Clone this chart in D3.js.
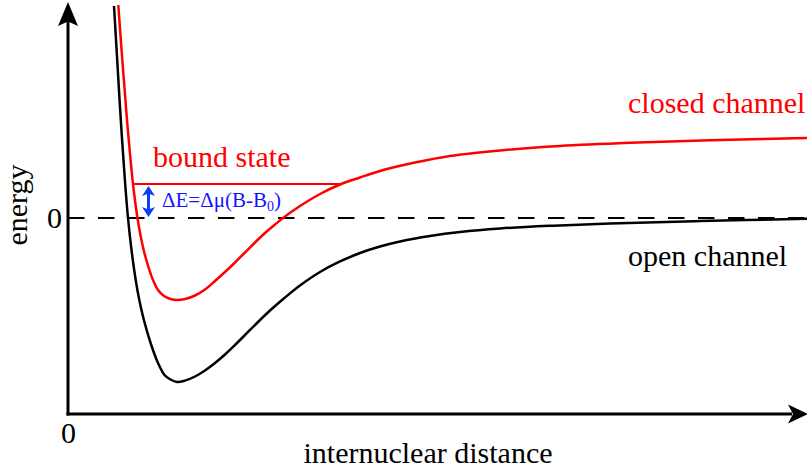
<!DOCTYPE html>
<html>
<head>
<meta charset="utf-8">
<script src="https://cdn.jsdelivr.net/npm/d3@7"></script>
<style>
  html, body { margin: 0; padding: 0; background: #fff; }
  svg { display: block; }
</style>
</head>
<body>
<svg id="chart" width="807" height="472"></svg>
<script>
// Potential energy curves, as [internuclear distance, energy] pairs
const openChannel = [
  [0.6216, 1.2927], [0.6649, 0.9634], [0.7135, 0.5976], [0.7689, 0.2317],
  [0.8108, 0.0000], [0.8581, -0.1951], [0.9149, -0.3780], [0.9635, -0.5000],
  [1.0257, -0.6220], [1.1162, -0.7622], [1.2162, -0.8841], [1.3041, -0.9573],
  [1.3851, -0.9848], [1.4730, -1.0000], [1.5811, -0.9915], [1.7162, -0.9665],
  [1.8514, -0.9299], [1.9865, -0.8841], [2.1216, -0.8323], [2.2568, -0.7744],
  [2.3919, -0.7134], [2.5541, -0.6402], [2.7297, -0.5640], [2.9324, -0.4848],
  [3.1351, -0.4116], [3.4054, -0.3293], [3.6757, -0.2652], [3.9459, -0.2134],
  [4.2162, -0.1738], [4.4865, -0.1433], [4.8919, -0.1098], [5.2973, -0.0854],
  [5.8378, -0.0640], [6.5135, -0.0476], [7.3243, -0.0335], [8.5405, -0.0183],
  [10.0, -0.0049]
];
const closedChannel = [
  [0.6797, 1.2988], [0.7338, 0.9634], [0.7973, 0.5976], [0.8784, 0.2073],
  [0.9392, 0.0000], [1.0068, -0.1646], [1.0784, -0.2866], [1.1486, -0.3780],
  [1.2162, -0.4390], [1.2973, -0.4756], [1.3851, -0.4939], [1.4730, -0.5000],
  [1.5811, -0.4939], [1.7162, -0.4726], [1.8514, -0.4360], [1.9865, -0.3841],
  [2.1216, -0.3293], [2.2568, -0.2713], [2.3919, -0.2104], [2.5270, -0.1494],
  [2.6622, -0.0915], [2.7973, -0.0396], [2.9054, 0.0000], [3.1351, 0.0732],
  [3.4054, 0.1463], [3.6757, 0.2043], [3.9459, 0.2470], [4.2838, 0.2957],
  [4.6892, 0.3384], [5.1622, 0.3780], [5.8378, 0.4116], [6.6486, 0.4390],
  [7.5946, 0.4585], [8.6757, 0.4738], [10.0, 0.4878]
];
// Bound state of the closed channel: energy and the distance span of its level line
const boundEnergy = [0.2073];
const boundSpan = [0.885, 3.69];
// Detuning arrow position (distance) and tick labels
const detuningAt = [1.088];
const xTicks = [0];
const yTicks = [0];

const SERIF = '"Liberation Serif", "Times New Roman", Times, serif';
const FONT = 30;
const svg = d3.select("#chart");

const x = d3.scaleLinear().domain([0, 10]).range([68, 808]);
const y = d3.scaleLinear().domain([-1, 0]).range([382, 218]);
const rEnd = 10, eBottom = -1.195, eTop = 1.317;

// arrowhead with a notched back: tip at (tx,ty), pointing along angle (radians)
function arrowHead(g, tx, ty, angle, len, half, notch, color) {
  const c = Math.cos(angle), s = Math.sin(angle);
  const pt = (a, b) => [tx - a * c - b * s, ty - a * s + b * c];
  const pts = [pt(0, 0), pt(len, half), pt(len - notch, 0), pt(len, -half)];
  g.append("path")
    .attr("d", "M" + pts.map(p => p.join(",")).join("L") + "Z")
    .attr("fill", color);
}

// zero-energy reference
svg.append("line")
  .attr("x1", x(0)).attr("x2", x(rEnd))
  .attr("y1", y(0)).attr("y2", y(0))
  .attr("stroke", "#000").attr("stroke-width", 2)
  .attr("stroke-dasharray", "16.5,13.5");

// axes with arrowheads
const axes = svg.append("g");
axes.append("line")
  .attr("x1", x(0)).attr("x2", x(0))
  .attr("y1", y(eBottom) + 1.5).attr("y2", y(eTop) + 18)
  .attr("stroke", "#000").attr("stroke-width", 3);
axes.append("line")
  .attr("x1", x(0) - 1.5).attr("x2", x(rEnd) - 16)
  .attr("y1", y(eBottom)).attr("y2", y(eBottom))
  .attr("stroke", "#000").attr("stroke-width", 3);
arrowHead(axes, x(0), y(eTop), -Math.PI / 2, 24, 10, 4.5, "#000");
arrowHead(axes, x(rEnd), y(eBottom), 0, 20, 9.5, 5, "#000");

// tick labels "0"
const yAxis = d3.axisLeft(y).tickValues(yTicks).tickSize(0).tickPadding(6).tickFormat(d3.format("d"));
const gy = svg.append("g").attr("transform", `translate(${x(0)},0)`).call(yAxis);
const xAxis = d3.axisBottom(x).tickValues(xTicks).tickSize(0).tickPadding(8).tickFormat(d3.format("d"));
const gx = svg.append("g").attr("transform", `translate(0,${y(eBottom)})`).call(xAxis);
[gx, gy].forEach(g => {
  g.select(".domain").remove();
  g.attr("font-family", null).attr("font-size", null);
  g.selectAll("text")
    .style("font-family", SERIF)
    .style("font-size", FONT + "px").attr("fill", "#000");
});

// curves
const line = d3.line()
  .x(d => x(d[0])).y(d => y(d[1]))
  .curve(d3.curveCatmullRom.alpha(0.5));

svg.append("path").datum(openChannel)
  .attr("d", line).attr("fill", "none")
  .attr("stroke", "#000").attr("stroke-width", 2.5);
svg.append("path").datum(closedChannel)
  .attr("d", line).attr("fill", "none")
  .attr("stroke", "#ff0000").attr("stroke-width", 2.5);

// bound state level
svg.append("line")
  .attr("x1", x(boundSpan[0])).attr("x2", x(boundSpan[1]))
  .attr("y1", y(boundEnergy[0])).attr("y2", y(boundEnergy[0]))
  .attr("stroke", "#ff0000").attr("stroke-width", 2);

// detuning double arrow
const blue = "#0a3cff";
const ax = x(detuningAt[0]);
const yTopA = y(boundEnergy[0]) + 2, yBotA = y(0) - 1;
svg.append("line")
  .attr("x1", ax).attr("x2", ax)
  .attr("y1", yTopA + 6).attr("y2", yBotA - 6)
  .attr("stroke", blue).attr("stroke-width", 3);
arrowHead(svg, ax, yTopA, -Math.PI / 2, 10, 6.5, 2.5, blue);
arrowHead(svg, ax, yBotA, Math.PI / 2, 10, 6.5, 2.5, blue);

// text labels
function label(xp, yp, txt, size, color, anchor) {
  return svg.append("text")
    .attr("x", xp).attr("y", yp)
    .attr("text-anchor", anchor || "start")
    .style("font-family", SERIF).style("font-size", size + "px")
    .attr("fill", color).text(txt);
}

const lbl = label(162, 207, "", 21, "#1414ff");
lbl.append("tspan").text("ΔE=Δμ(B-B");
lbl.append("tspan").style("font-size", "14px").attr("dy", 4).text("0");
lbl.append("tspan").attr("dy", -4).text(")");

label(153, 167, "bound state", FONT, "#ff0000");
label(628, 113, "closed channel", FONT, "#ff0000");
label(628, 266, "open channel", FONT, "#000");
label(428, 463, "internuclear distance", FONT, "#000", "middle");
label(0, 0, "energy", FONT, "#000", "middle")
  .attr("transform", "translate(27,205) rotate(-90)");
</script>
</body>
</html>
